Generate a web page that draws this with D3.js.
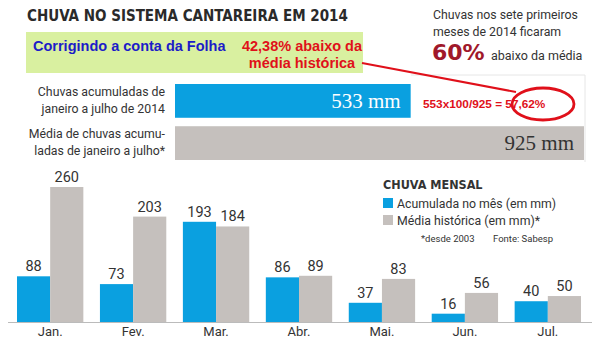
<!DOCTYPE html>
<html><head><meta charset="utf-8">
<script src="https://cdn.jsdelivr.net/npm/d3@7"></script>
<style>body{margin:0;background:#fff}svg{display:block}</style>
</head><body><svg id="c" width="600" height="340"></svg>
<script>
const months = ["Jan.","Fev.","Mar.","Abr.","Mai.","Jun.","Jul."];
const acumulada = [88,73,193,86,37,16,40];
const media = [260,203,184,89,83,56,50];
const totalLabels = ["Chuvas acumuladas de|janeiro a julho de 2014","Média de chuvas acumu-|ladas de janeiro a julho*"];
const totalValues = [533,925];
const seriesNames = ["Acumulada no mês (em mm)","Média histórica (em mm)*"];

const BLUE="#0aa0e0", GRAY="#c5c0bd", TXT="#333";
const SANS="Roboto,'DejaVu Sans Condensed',sans-serif";
const svg=d3.select("#c");

// title
svg.append("text").attr("x",27).attr("y",21).attr("font-family","'DejaVu Sans Condensed',sans-serif")
 .attr("font-weight","bold").attr("font-size",15).attr("fill","#2a2a2a").text("CHUVA NO SISTEMA CANTAREIRA EM 2014");

// top-right note
const note=svg.append("g").attr("font-family",SANS).attr("fill","#333");
note.append("text").attr("x",433).attr("y",19).attr("font-size",12.3).text("Chuvas nos sete primeiros");
note.append("text").attr("x",433).attr("y",36).attr("font-size",12.3).text("meses de 2014 ficaram");
note.append("text").attr("x",432).attr("y",60).attr("font-size",22).attr("font-weight","900").attr("fill","#a0182a")
 .attr("font-family","'DejaVu Sans',sans-serif").text("60%");
note.append("text").attr("x",491).attr("y",60).attr("font-size",12.5).text("abaixo da média");

// faint frame
svg.append("path").attr("d","M411,75H585V162").attr("fill","none").attr("stroke","#e6e6e6");

// horizontal totals
const x=d3.scaleLinear().domain([0,925]).range([175,584]);
const yb=d3.scaleBand().domain(totalLabels).range([84,160]).paddingInner(0.2);
svg.selectAll("rect.tot").data(totalValues).join("rect").attr("class","tot")
 .attr("x",x(0)).attr("y",(d,i)=>yb(totalLabels[i])).attr("width",d=>x(d)-x(0)).attr("height",yb.bandwidth())
 .attr("fill",(d,i)=>i?GRAY:BLUE);
svg.selectAll("text.totv").data(totalValues).join("text").attr("class","totv")
 .attr("x",d=>x(d)-10).attr("y",(d,i)=>yb(totalLabels[i])+yb.bandwidth()/2+7).attr("text-anchor","end")
 .attr("font-family","'Liberation Serif',serif").attr("font-size",21).attr("fill",(d,i)=>i?"#333":"#fff")
 .text(d=>d+" mm");
totalLabels.forEach((l,i)=>{
  const t=svg.append("text").attr("text-anchor","end").attr("font-family",SANS).attr("font-size",12.3).attr("fill",TXT);
  l.split("|").forEach((s,j)=>t.append("tspan").attr("x",165).attr("y",yb(l)+12+j*17).text(s));
});

// green box annotation
svg.append("rect").attr("x",26).attr("y",32).attr("width",337).attr("height",41).attr("fill","#d9f0a0");
svg.append("text").attr("x",33).attr("y",51).attr("font-family","'Liberation Sans',Arial,sans-serif").attr("font-weight","bold")
 .attr("font-size",14.5).attr("fill","#1c1cc8").text("Corrigindo a conta da Folha");
const rt=svg.append("text").attr("text-anchor","middle").attr("font-family","'Liberation Sans',Arial,sans-serif")
 .attr("font-weight","bold").attr("font-size",14.5).attr("fill","#e0101a");
rt.append("tspan").attr("x",302).attr("y",51).text("42,38% abaixo da");
rt.append("tspan").attr("x",302).attr("y",68).text("média histórica");
svg.append("line").attr("x1",362).attr("y1",63).attr("x2",516).attr("y2",92).attr("stroke","#e0101a").attr("stroke-width",2);
svg.append("text").attr("x",423).attr("y",108).attr("font-family","'Liberation Sans',Arial,sans-serif").attr("font-weight","bold")
 .attr("font-size",11.8).attr("fill","#e0101a").text("553x100/925 = 57,62%");
svg.append("ellipse").attr("cx",543).attr("cy",104).attr("rx",31).attr("ry",16).attr("fill","none")
 .attr("stroke","#e0101a").attr("stroke-width",2.8);

// monthly bars
const x0=d3.scaleBand().domain(months).range([17,581]).paddingInner(0.2).paddingOuter(0);
const x1=d3.scaleBand().domain([0,1]).range([0,x0.bandwidth()]);
const y=d3.scaleLinear().domain([0,260]).range([322,187]);
const g=svg.append("g");
months.forEach((m,i)=>{
  [acumulada[i],media[i]].forEach((v,k)=>{
    g.append("rect").attr("x",x0(m)+x1(k)).attr("y",y(v)).attr("width",x1.bandwidth()).attr("height",y(0)-y(v))
     .attr("fill",k?GRAY:BLUE);
    g.append("text").attr("x",x0(m)+x1(k)+x1.bandwidth()/2).attr("y",y(v)-5).attr("text-anchor","middle")
     .attr("font-family",SANS).attr("font-size",14.5).attr("fill",TXT).text(v);
  });
});
svg.append("line").attr("x1",8).attr("x2",592).attr("y1",322.5).attr("y2",322.5).attr("stroke","#bbb");
const ax=svg.append("g").attr("transform","translate(0,322)").call(d3.axisBottom(x0).tickSize(0).tickPadding(5));
ax.select(".domain").remove();
ax.selectAll("text").attr("font-family",SANS).attr("font-size",13).attr("fill",TXT);

// legend
const lg=svg.append("g").attr("font-family",SANS).attr("fill",TXT);
lg.append("text").attr("x",383).attr("y",189).attr("font-size",12.5).attr("font-weight","bold")
 .attr("font-family","'DejaVu Sans Condensed',sans-serif").text("CHUVA MENSAL");
seriesNames.forEach((s,i)=>{
  lg.append("rect").attr("x",383).attr("y",198+i*17).attr("width",10).attr("height",10).attr("fill",i?GRAY:BLUE);
  lg.append("text").attr("x",397).attr("y",208+i*17).attr("font-size",12.3).text(s);
});
lg.append("text").attr("x",421).attr("y",242).attr("font-size",9.5).text("*desde 2003");
lg.append("text").attr("x",493).attr("y",242).attr("font-size",9.5).text("Fonte: Sabesp");
</script></body></html>
